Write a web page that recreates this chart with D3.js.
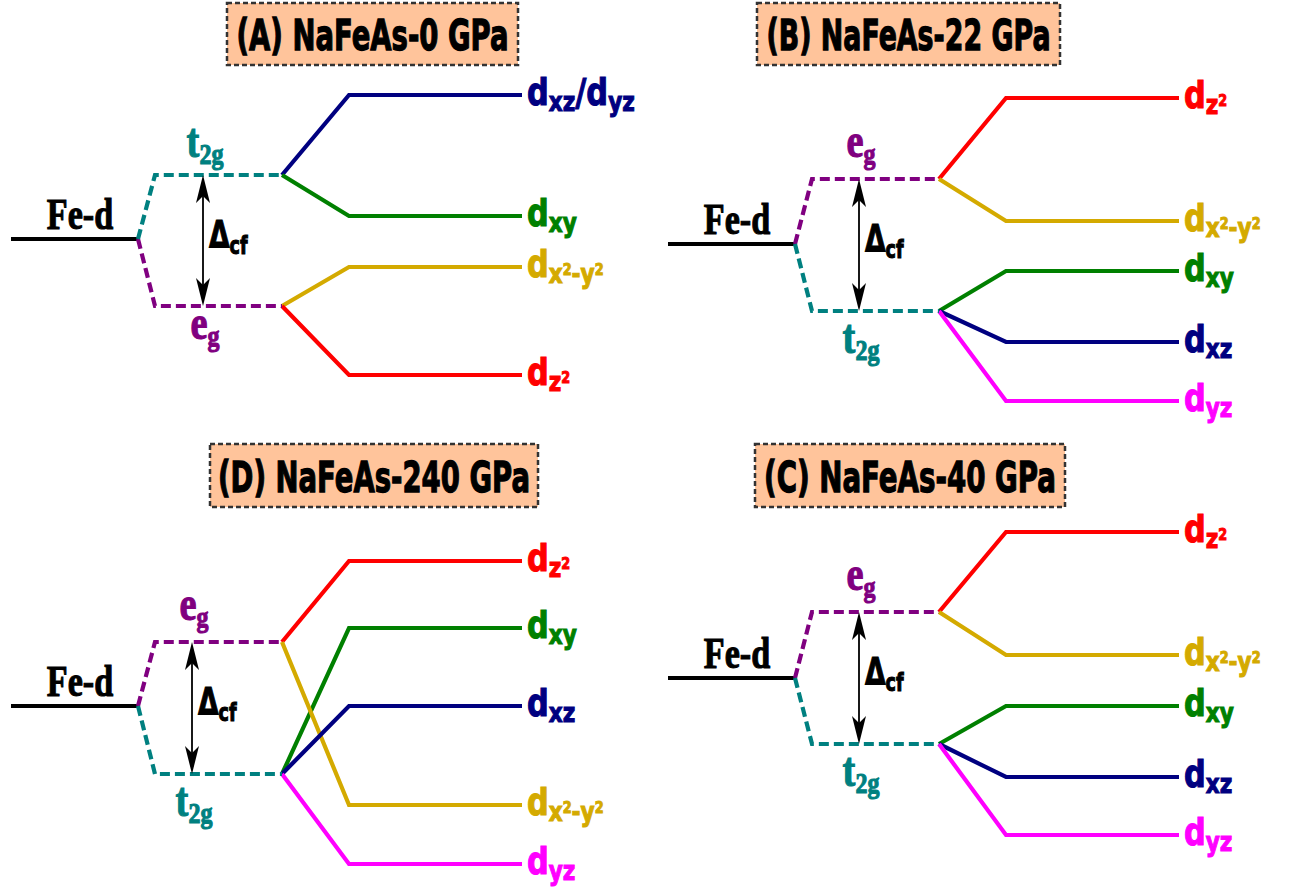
<!DOCTYPE html>
<html><head><meta charset="utf-8">
<script src="https://cdn.jsdelivr.net/npm/d3@7"></script>
<style>body{margin:0;background:#fff}</style>
</head><body>
<svg id="c" width="1297" height="888"></svg>
<script>
// ---------- DATA ----------
const panelTitles = ["(A) NaFeAs-0 GPa", "(B) NaFeAs-22 GPa", "(C) NaFeAs-40 GPa", "(D) NaFeAs-240 GPa"];
// crystal-field groups, energy relative to Fe-d (arb. units)
const egEnergy  = [-0.67, 0.65, 0.66, 0.64];
const t2gEnergy = [0.64, -0.67, -0.66, -0.68];
// panel A (0 GPa)
const orbitalsA = ["dxz/dyz", "dxy", "dx2-y2", "dz2"];
const energiesA = [1.44, 0.23, -0.28, -1.36];
const parentsA  = ["t2g", "t2g", "eg", "eg"];
// panel B (22 GPa)
const orbitalsB = ["dz2", "dx2-y2", "dxy", "dxz", "dyz"];
const energiesB = [1.46, 0.23, -0.27, -0.98, -1.57];
const parentsB  = ["eg", "eg", "t2g", "t2g", "t2g"];
// panel C (40 GPa)
const orbitalsC = ["dz2", "dx2-y2", "dxy", "dxz", "dyz"];
const energiesC = [1.46, 0.23, -0.28, -0.99, -1.57];
const parentsC  = ["eg", "eg", "t2g", "t2g", "t2g"];
// panel D (240 GPa)
const orbitalsD = ["dz2", "dxy", "dx2-y2", "dxz", "dyz"];
const energiesD = [1.45, 0.78, -0.99, 0.00, -1.58];
const parentsD  = ["eg", "t2g", "eg", "t2g", "t2g"];

// ---------- STYLE / LAYOUT ----------
const orbitalColors = {"dxz/dyz":"#000080","dxy":"#008000","dx2-y2":"#D4AA00","dz2":"#FF0000","dxz":"#000080","dyz":"#FF00FF"};
const groupColors = {eg:"#800080", t2g:"#008080"};
const layout = [
  {x0:0,   fe:239, ax:203, box:[227,3,291,62],   tl:272},
  {x0:657, fe:244, ax:859, box:[757,3,303,62],   tl:284},
  {x0:657, fe:678, ax:859, box:[755,444,310,63], tl:292},
  {x0:0,   fe:706, ax:192, box:[210,444,328,63], tl:312}
];
const labelParts = {
  "dxz/dyz": [["d","m"],["xz","s"],["/d","m"],["yz","s"]],
  "dxy": [["d","m"],["xy","s"]],
  "dxz": [["d","m"],["xz","s"]],
  "dyz": [["d","m"],["yz","s"]],
  "dx2-y2": [["d","m"],["x","s"],["2","p"],["-","s"],["y","s"],["2","p"]],
  "dz2": [["d","m"],["z","s"],["2","p"]]
};
const partStyle = {m:{size:38, off:0}, s:{size:27, off:6}, p:{size:16, off:-2}};

const panels = [
  {orb:orbitalsA, e:energiesA, p:parentsA},
  {orb:orbitalsB, e:energiesB, p:parentsB},
  {orb:orbitalsC, e:energiesC, p:parentsC},
  {orb:orbitalsD, e:energiesD, p:parentsD}
];

const svg = d3.select("#c");
const line = d3.line();

panels.forEach((pd, i) => {
  const L = layout[i];
  const y = d3.scaleLinear().domain([0, 1]).range([L.fe, L.fe - 100]);
  const x = d3.scaleLinear().domain([0, 1]).range([L.x0, L.x0 + 100]);
  const xs = {feStart:0.11, feEnd:1.38, grpStart:1.55, grpEnd:2.82, orbStart:3.49, orbEnd:5.22, label:5.27};
  const g = svg.append("g");
  const groupE = {eg: egEnergy[i], t2g: t2gEnergy[i]};

  // title box
  const b = L.box;
  g.append("rect").attr("x", b[0]).attr("y", b[1]).attr("width", b[2]).attr("height", b[3])
    .attr("fill", "#FFC49B").attr("stroke", "#333").attr("stroke-width", 2.5).attr("stroke-dasharray", "5,3");
  g.append("text").attr("x", b[0] + b[2]/2).attr("y", b[1] + b[3]/2 + 16)
    .attr("text-anchor", "middle").attr("font-family", "DejaVu Sans").attr("font-weight", "bold")
    .attr("font-size", 42).attr("textLength", L.tl).attr("lengthAdjust", "spacingAndGlyphs")
    .attr("stroke", "#000").attr("stroke-width", 1.3)
    .text(panelTitles[i]);

  // Fe-d level
  g.append("path").attr("d", line([[x(xs.feStart), y(0)], [x(xs.feEnd), y(0)]]))
    .attr("stroke", "#000").attr("stroke-width", 4).attr("fill", "none");
  g.append("g").attr("transform", `translate(${x(0.80)},${y(0) - 10}) scale(0.76,1)`)
    .append("text").attr("text-anchor", "middle").attr("font-family", "Liberation Serif")
    .attr("font-weight", "bold").attr("font-size", 45).attr("stroke", "#000").attr("stroke-width", 1.1)
    .text("Fe-d");

  // solid orbital lines
  pd.orb.forEach((o, k) => {
    const ge = groupE[pd.p[k]];
    g.append("path").attr("d", line([[x(xs.grpEnd), y(ge)], [x(xs.orbStart), y(pd.e[k])], [x(xs.orbEnd), y(pd.e[k])]]))
      .attr("stroke", orbitalColors[o]).attr("stroke-width", 4.2).attr("fill", "none");
    const t = g.append("g").attr("transform", `translate(${x(xs.label)},${y(pd.e[k]) + 10}) scale(0.8,1)`)
      .append("text").attr("font-family", "DejaVu Sans").attr("font-weight", "bold")
      .attr("fill", orbitalColors[o]).attr("stroke", orbitalColors[o]).attr("stroke-width", 1.1);
    let cur = 0;
    labelParts[o].forEach(([txt, kind]) => {
      const st = partStyle[kind];
      t.append("tspan").attr("dy", st.off - cur).attr("font-size", st.size).text(txt);
      cur = st.off;
    });
  });

  // dashed group levels
  ["eg", "t2g"].forEach(grp => {
    const ge = groupE[grp];
    g.append("path").attr("d", line([[x(xs.feEnd), y(0)], [x(xs.grpStart), y(ge)], [x(xs.grpEnd), y(ge)]]))
      .attr("stroke", groupColors[grp]).attr("stroke-width", 4.2).attr("fill", "none")
      .attr("stroke-dasharray", "10,5");
    const above = ge > 0;
    let base;
    if (grp === "t2g") base = above ? y(ge) - 18 : y(ge) + 42;
    else base = above ? y(ge) - 22 : y(ge) + 33;
    const t = g.append("g").attr("transform", `translate(${L.ax + 2},${base}) scale(0.8,1)`)
      .append("text").attr("text-anchor", "middle").attr("font-family", "Liberation Serif")
      .attr("font-weight", "bold").attr("fill", groupColors[grp])
      .attr("stroke", groupColors[grp]).attr("stroke-width", 1.1);
    if (grp === "t2g") {
      t.append("tspan").attr("font-size", 48).text("t");
      t.append("tspan").attr("font-size", 30).attr("dy", 7).text("2g");
    } else {
      t.append("tspan").attr("font-size", 48).text("e");
      t.append("tspan").attr("font-size", 30).attr("dy", 7).text("g");
    }
  });

  // Delta_cf arrow
  const yTop = y(Math.max(groupE.eg, groupE.t2g));
  const yBot = y(Math.min(groupE.eg, groupE.t2g));
  g.append("line").attr("x1", L.ax).attr("x2", L.ax).attr("y1", yTop + 10).attr("y2", yBot - 10)
    .attr("stroke", "#000").attr("stroke-width", 1.8);
  const head = "M0,0 L-7,28 L0,21 L7,28 Z";
  g.append("path").attr("d", head).attr("transform", `translate(${L.ax},${yTop})`).attr("fill", "#000");
  g.append("path").attr("d", head).attr("transform", `translate(${L.ax},${yBot}) rotate(180)`).attr("fill", "#000");
  const mid = (yTop + yBot) / 2;
  const dt = g.append("g").attr("transform", `translate(${L.ax + 6},${mid + 6}) scale(0.7,1)`)
    .append("text").attr("font-family", "DejaVu Sans").attr("font-weight", "bold").attr("fill", "#000")
    .attr("stroke", "#000").attr("stroke-width", 1.1);
  dt.append("tspan").attr("font-size", 38).text("Δ");
  dt.append("tspan").attr("font-size", 25).attr("dy", 7).text("cf");
});
</script>
</body></html>
